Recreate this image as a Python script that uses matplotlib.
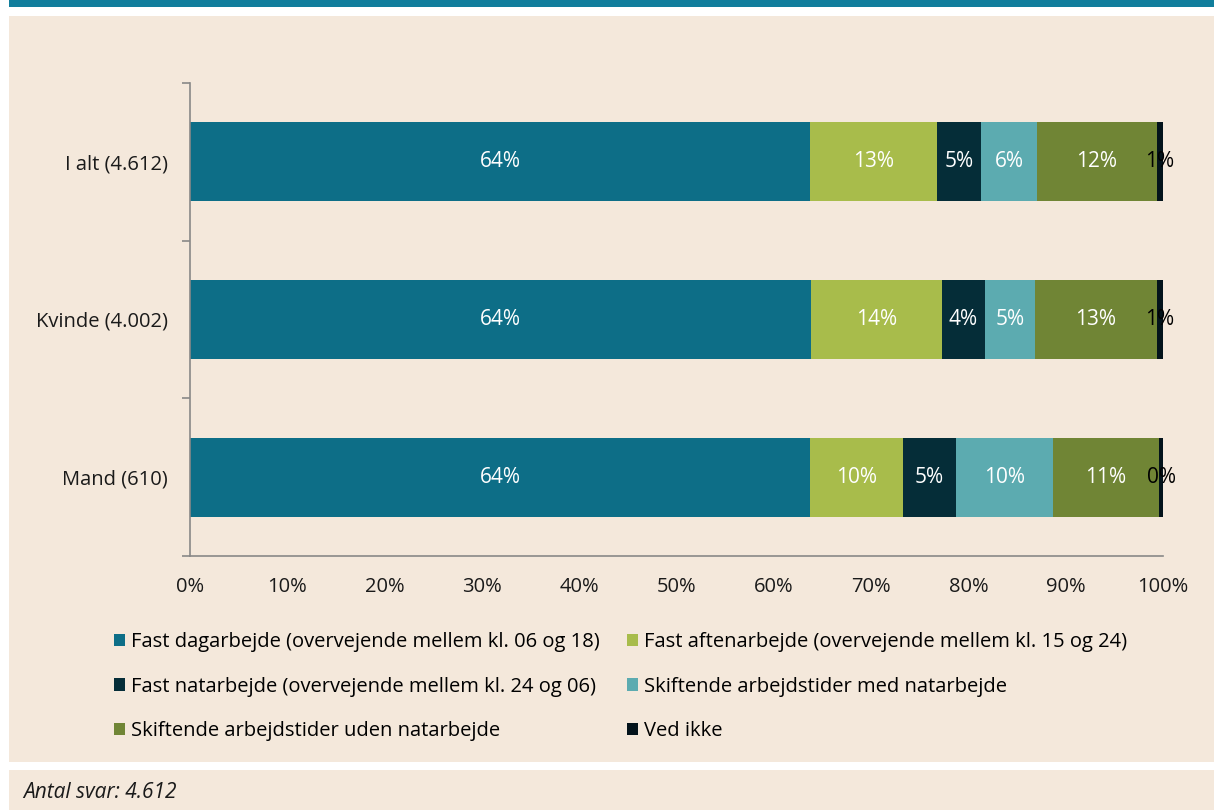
import matplotlib.pyplot as plt
from matplotlib.patches import Rectangle
import numpy as np

plt.rcParams['font.family'] = ['Open Sans', 'DejaVu Sans']

# data
groups = ['I alt (4.612)', 'Kvinde (4.002)', 'Mand (610)']
series_names = [
    'Fast dagarbejde (overvejende mellem kl. 06 og 18)',
    'Fast aftenarbejde (overvejende mellem kl. 15 og 24)',
    'Fast natarbejde (overvejende mellem kl. 24 og 06)',
    'Skiftende arbejdstider med natarbejde',
    'Skiftende arbejdstider uden natarbejde',
    'Ved ikke',
]
dag = [63.7, 63.8, 63.7]
aften = [13.05, 13.5, 9.6]
nat = [4.55, 4.4, 5.4]
skift_med = [5.72, 5.1, 10.0]
skift_uden = [12.4, 12.6, 10.9]
ved_ikke = [0.55, 0.6, 0.4]
series = [dag, aften, nat, skift_med, skift_uden, ved_ikke]

colors = ['#0D6E87', '#A8BC4B', '#052D38', '#5CABB0', '#708535', '#03131B']
label_colors = ['white', 'white', 'white', 'white', 'white', 'black']
bg = '#F4E8DB'
W, H = 1214, 810
fs = 14.5

fig = plt.figure(figsize=(W / 100, H / 100), dpi=100)
fig.patch.set_facecolor('white')

# background panels (figure pixel coords converted to fractions)
def panel(x0, y0, x1, y1, color):
    fig.add_artist(Rectangle((x0 / W, 1 - y1 / H), (x1 - x0) / W, (y1 - y0) / H,
                             transform=fig.transFigure, facecolor=color,
                             edgecolor='none', zorder=-10))

panel(9, 0, W, 7, '#117E9C')
panel(9, 16, W, 762, bg)
panel(9, 770, W, H, bg)

ax = fig.add_axes([190 / W, 1 - 556 / H, 973 / W, 473 / H])
ax.set_facecolor(bg)
ax.patch.set_alpha(0)

y = np.arange(len(groups))
left = np.zeros(len(groups))
for vals, col, tcol, name in zip(series, colors, label_colors, series_names):
    vals = np.array(vals)
    bars = ax.barh(y, vals, left=left, height=0.5, color=col, label=name)
    for yi, l, v in zip(y, left, vals):
        ax.text(l + v / 2, yi, f'{v:.0f}%', ha='center', va='center',
                color=tcol, fontsize=15)
    left = left + vals

ax.set_xlim(0, 100)
ax.set_ylim(len(groups) - 0.5, -0.5)
ax.set_xticks(np.arange(0, 101, 10))
ax.set_xticklabels([f'{t}%' for t in range(0, 101, 10)])
ax.set_yticks(y)
ax.set_yticklabels(groups)
ax.set_yticks(np.arange(-0.5, len(groups), 1), minor=True)
ax.tick_params(axis='y', which='major', length=0, pad=16, labelsize=fs, labelcolor='#1a1a1a')
ax.tick_params(axis='y', which='minor', length=6, color='#888888', width=1.2)
ax.tick_params(axis='x', length=0, pad=15, labelsize=fs, labelcolor='#1a1a1a')
for s in ['top', 'right']:
    ax.spines[s].set_visible(False)
for s in ['left', 'bottom']:
    ax.spines[s].set_color('#888888')
    ax.spines[s].set_linewidth(1.2)

handles, labels = ax.get_legend_handles_labels()
order = [0, 2, 4, 1, 3, 5]
fig.legend([handles[i] for i in order], [labels[i] for i in order],
           ncol=2, loc='upper left', bbox_to_anchor=(114 / W, 1 - 632 / H),
           frameon=False, fontsize=fs, handlelength=0.55, handleheight=0.55,
           handletextpad=0.3, columnspacing=1.35, labelspacing=1.22,
           borderaxespad=0, borderpad=0)

fig.text(23 / W, 1 - 792 / H, 'Antal svar: 4.612', style='italic',
         fontsize=15, va='center', color='#1a1a1a')

fig.savefig('out.png', dpi=100, facecolor=fig.get_facecolor())
